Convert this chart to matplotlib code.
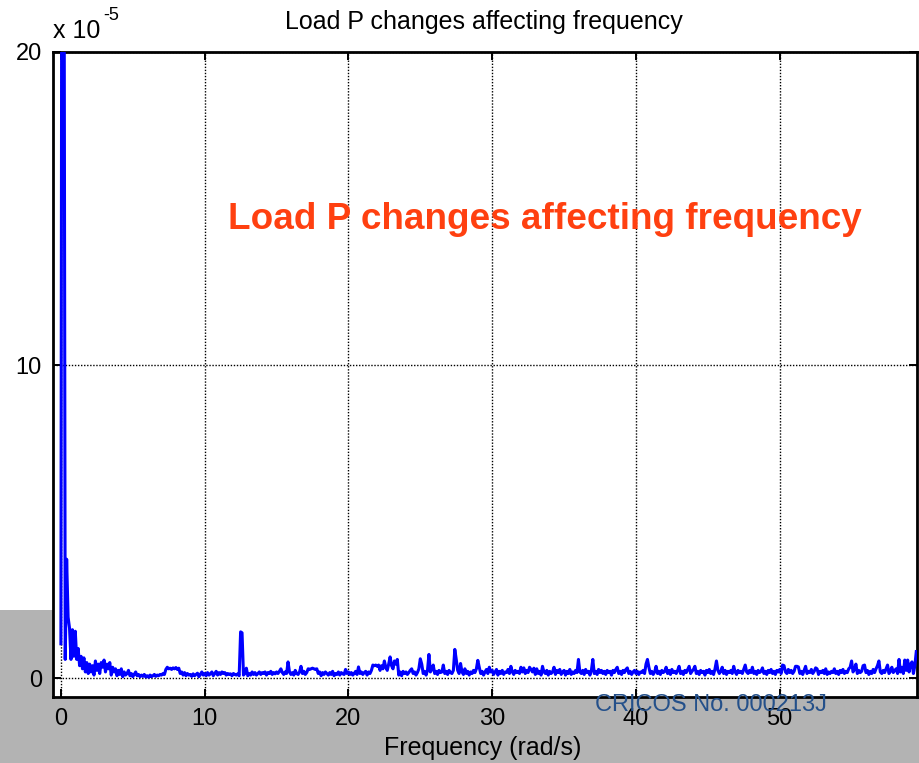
import numpy as np
import matplotlib.pyplot as plt
from matplotlib.patches import Rectangle

plt.rcParams["font.family"] = ["Liberation Sans", "DejaVu Sans"]

# spectrum magnitude, in units of 1e-7 (so 100 -> 1 x 10^-5), step 0.1 rad/s
mag_0_10 = [
    110, 4000, 3000, 60, 380, 195, 160, 60, 155, 70,
    150, 60, 95, 40, 70, 30, 65, 20, 50, 15,
    45, 20, 40, 10, 55, 25, 45, 15, 50, 35,
    58, 20, 45, 30, 50, 10, 35, 20, 30, 8,
    25, 12, 30, 5, 20, 10, 15, 25, 8, 15,
    5, 12, 20, 8, 12, 5, 10, 6, 12, 4,
    8, 3, 10, 5, 8, 12, 6, 10, 8, 12,
    10, 15, 12, 28, 35, 30, 32, 28, 33, 30,
    34, 28, 32, 15, 20, 10, 18, 8, 15, 10,
    12, 6, 14, 8, 12, 16, 5, 12, 20, 10,
]
mag_10_20 = [
    15, 8, 18, 10, 14, 20, 8, 15, 22, 10,
    18, 12, 20, 15, 18, 10, 15, 12, 14, 8,
    15, 12, 10, 14, 8, 148, 145, 10, 15, 32,
    8, 15, 10, 20, 12, 18, 10, 15, 20, 12,
    18, 15, 20, 10, 18, 15, 22, 12, 18, 14,
    20, 15, 22, 30, 18, 12, 20, 15, 52, 20,
    12, 18, 10, 25, 15, 12, 20, 38, 15, 22,
    12, 18, 30, 28, 30, 32, 30, 28, 30, 15,
    20, 8, 18, 12, 20, 15, 10, 18, 12, 22,
    8, 15, 12, 20, 10, 18, 14, 12, 28, 15,
]
mag_20_30 = [
    20, 12, 18, 10, 15, 22, 12, 36, 15, 20,
    12, 18, 22, 10, 20, 15, 25, 42, 40, 42,
    38, 42, 25, 40, 30, 55, 35, 25, 45, 68,
    40, 30, 55, 45, 60, 10, 20, 8, 22, 15,
    20, 12, 18, 25, 30, 15, 20, 10, 18, 30,
    62, 45, 15, 22, 10, 25, 76, 20, 28, 42,
    15, 22, 12, 25, 18, 20, 42, 15, 22, 12,
    25, 18, 15, 25, 92, 60, 25, 15, 47, 20,
    12, 30, 15, 22, 10, 20, 15, 25, 18, 30,
    57, 35, 15, 22, 10, 20, 28, 15, 35, 20,
]
mag_30_40 = [
    25, 12, 20, 28, 10, 22, 15, 25, 12, 20,
    18, 28, 15, 38, 20, 12, 25, 18, 22, 15,
    35, 20, 33, 15, 25, 18, 35, 28, 20, 32,
    12, 30, 15, 22, 10, 38, 20, 15, 25, 10,
    22, 15, 20, 35, 12, 25, 18, 28, 12, 20,
    25, 10, 22, 15, 28, 12, 20, 15, 25, 18,
    60, 20, 15, 25, 12, 28, 18, 22, 10, 25,
    60, 15, 22, 12, 28, 18, 25, 15, 22, 12,
    25, 18, 22, 10, 25, 18, 28, 35, 15, 22,
    12, 25, 18, 28, 33, 15, 22, 12, 20, 25,
]
mag_40_50 = [
    15, 22, 12, 20, 18, 25, 15, 45, 60, 35,
    15, 22, 12, 20, 38, 15, 22, 12, 25, 18,
    22, 35, 15, 25, 12, 28, 18, 22, 15, 25,
    38, 15, 22, 12, 25, 18, 28, 38, 15, 22,
    28, 38, 15, 22, 12, 25, 18, 22, 10, 25,
    18, 28, 15, 22, 12, 30, 55, 25, 15, 22,
    35, 15, 25, 12, 22, 18, 25, 15, 38, 20,
    12, 25, 18, 22, 15, 28, 42, 20, 15, 25,
    18, 35, 15, 22, 12, 25, 18, 22, 33, 15,
    22, 12, 25, 18, 28, 15, 22, 12, 25, 20,
]
mag_50_60 = [
    28, 15, 42, 40, 20, 15, 28, 18, 25, 15,
    22, 38, 38, 36, 15, 22, 12, 25, 38, 15,
    22, 18, 28, 15, 22, 33, 30, 12, 22, 18,
    25, 15, 30, 12, 20, 15, 22, 18, 30, 15,
    22, 12, 25, 18, 28, 15, 22, 18, 30, 35,
    55, 20, 28, 45, 15, 25, 18, 22, 40, 42,
    18, 25, 12, 22, 15, 28, 18, 30, 40, 55,
    20, 15, 25, 18, 30, 42, 15, 22, 35, 18,
    25, 30, 15, 60, 20, 35, 15, 58, 25, 58,
    20, 45, 52, 15, 40, 85,
]
freq_step = 0.1  # rad/s

x_ticks = [0, 10, 20, 30, 40, 50]
y_ticks = [0, 10, 20]

mag = np.array(mag_0_10 + mag_10_20 + mag_20_30 + mag_30_40 + mag_40_50 + mag_50_60) / 100.0
freq = np.arange(len(mag)) * freq_step

fig = plt.figure(figsize=(9.2, 7.63), dpi=100)
fig.patch.set_facecolor("white")
# grey slide background at the bottom, behind the axes
fig.add_artist(Rectangle((0, 0), 1, 1 - 610 / 763, transform=fig.transFigure,
                         facecolor="#b3b3b3", edgecolor="none", zorder=-5))

ax = fig.add_axes([53 / 920, 1 - 697 / 763, (917 - 53) / 920, (697 - 52) / 763])
ax.set_facecolor("white")
ax.plot(freq, mag, color="#0000ff", lw=2.2, zorder=3)

ax.set_xlim(-0.55, 59.55)
ax.set_ylim(-0.6, 20)
ax.set_xticks(x_ticks)
ax.set_yticks(y_ticks)
ax.grid(True, color="black", linestyle=(0, (1, 1.2)), lw=1.0)
ax.tick_params(direction="in", length=6, width=1.4, top=True, right=True,
               labelsize=17, pad=8)
for s in ax.spines.values():
    s.set_linewidth(2.0)

fig.text(0.526, 1 - 22 / 763, "Load P changes affecting frequency", ha="center",
         va="center", fontsize=18)
fig.text(53 / 920, 1 - 31 / 763, "x 10", ha="left", va="center", fontsize=18)
fig.text(103 / 920, 1 - 16 / 763, "-5", ha="left", va="center", fontsize=13)
fig.text(483 / 920, 1 - 748 / 763, "Frequency (rad/s)", ha="center", va="center",
         fontsize=18)

fig.text(545 / 920, 1 - 220 / 763, "Load P changes affecting frequency",
         ha="center", va="center", fontsize=26.6, fontweight="bold",
         color="#ff4010", zorder=5)
fig.text(711 / 920, 1 - 705 / 763, "CRICOS No. 000213J", ha="center", va="center",
         fontsize=17, color="#24508a", zorder=10)

fig.savefig("out.png", dpi=100)
